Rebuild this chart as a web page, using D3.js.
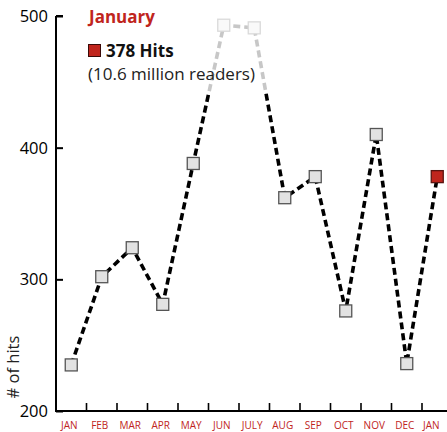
<!DOCTYPE html>
<html><head><meta charset="utf-8">
<script src="https://cdn.jsdelivr.net/npm/d3@7"></script>
<style>body{margin:0;background:#fff}svg{display:block}text{font-family:"Open Sans",sans-serif}</style>
</head><body><svg id="c" width="447" height="432"></svg>
<script>
const months = ["JAN","FEB","MAR","APR","MAY","JUN","JULY","AUG","SEP","OCT","NOV","DEC","JAN"];
const hits = [235,302,324,281,388,493,491,362,378,276,410,236,378];
const yTicks = [200,300,400,500];
const RED = "#c0251d";

const svg = d3.select("#c");
const keys = months.map((m,i)=>i);
const x = d3.scaleBand().domain(keys).range([56,452.5]);
const y = d3.scaleLinear().domain([200,500]).range([411,16]);
const cx = i => x(i)+x.bandwidth()/2;

// line
svg.append("path").datum(hits)
  .attr("d", d3.line().x((d,i)=>cx(i)).y(d=>y(d)))
  .attr("fill","none").attr("stroke","#000").attr("stroke-width",3.6)
  .attr("stroke-dasharray","7,4");

// points
svg.selectAll("rect.pt").data(hits).join("rect").attr("class","pt")
  .attr("x",(d,i)=>cx(i)-6).attr("y",d=>y(d)-6).attr("width",12).attr("height",12)
  .attr("fill",(d,i)=>i===hits.length-1?RED:"#e2e2e2")
  .attr("stroke",(d,i)=>i===hits.length-1?"#5a1410":"#555").attr("stroke-width",1.3);

// fading overlay
svg.append("rect").attr("x",70).attr("y",0).attr("width",230).attr("height",93)
  .attr("fill","#fff").attr("opacity",0.78);

// axes
const ya = svg.append("g").attr("transform","translate(56,0)")
  .call(d3.axisRight(y).tickValues(yTicks).tickSize(7).tickFormat(""));
ya.select(".domain").attr("d",`M0,${y(500)}H7M0,${y(500)}V${y(200)}`).attr("stroke","#000").attr("stroke-width",2);
ya.selectAll(".tick line").attr("stroke","#000").attr("stroke-width",2);
svg.selectAll("text.yl").data(yTicks).join("text").attr("class","yl")
  .attr("x",48).attr("y",d=>y(d)+6).attr("text-anchor","end")
  .attr("font-size",16.5).attr("fill","#000").text(d=>d);

const xa = svg.append("g").attr("transform","translate(0,411)");
xa.append("line").attr("x1",55).attr("x2",447).attr("stroke","#000").attr("stroke-width",2);
xa.selectAll("line.t").data(keys.slice(1)).join("line").attr("class","t")
  .attr("x1",d=>x(d)).attr("x2",d=>x(d)).attr("y1",0).attr("y2",-8)
  .attr("stroke","#000").attr("stroke-width",1.6);
svg.selectAll("text.xl").data(months).join("text").attr("class","xl")
  .attr("x",(d,i)=>i===months.length-1?cx(i)-6:cx(i)-2).attr("y",428.5).attr("text-anchor","middle")
  .attr("font-size",10).attr("fill",RED).text(d=>d);

svg.append("text").attr("transform","translate(19,367) rotate(-90)")
  .attr("text-anchor","middle").attr("font-size",16.5).attr("fill","#222").text("# of hits");

// annotation
svg.append("text").attr("x",89).attr("y",23).attr("font-size",17).attr("font-weight","bold")
  .attr("fill",RED).text("January");
svg.append("rect").attr("x",88.5).attr("y",44.5).attr("width",12).attr("height",12)
  .attr("fill",RED).attr("stroke","#3a0a08").attr("stroke-width",1);
svg.append("text").attr("x",106).attr("y",57).attr("font-size",17).attr("font-weight","bold")
  .attr("fill","#111").text(hits[hits.length-1]+" Hits");
svg.append("text").attr("x",88).attr("y",80).attr("font-size",17)
  .attr("fill","#222").text("(10.6 million readers)");
</script></body></html>
